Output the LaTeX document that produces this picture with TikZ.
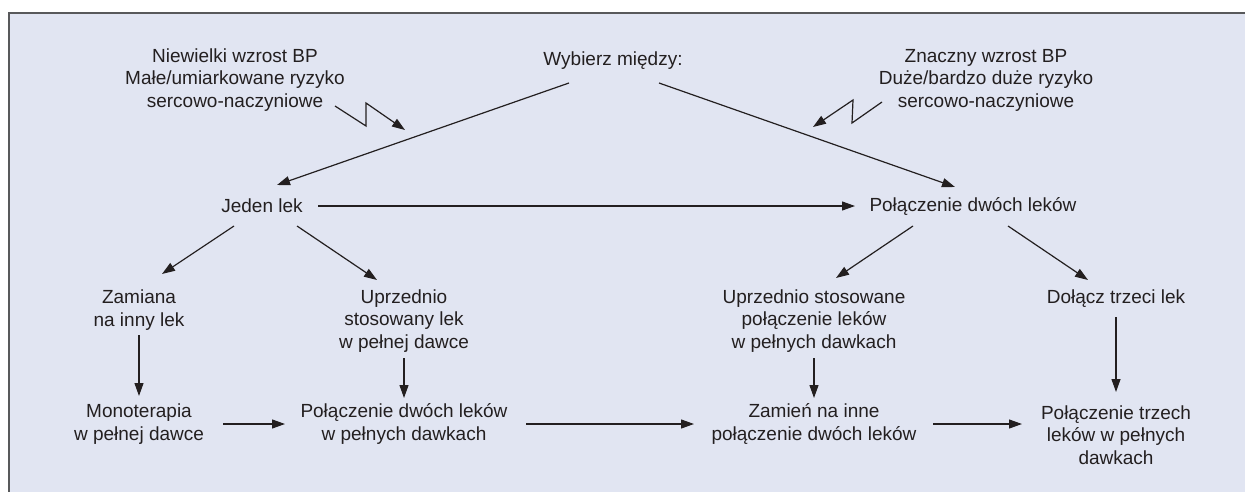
\documentclass[tikz,border=0pt]{standalone}
\usepackage{fontspec}
\setmainfont{Liberation Sans}
\usepackage{tikz}
\usetikzlibrary{arrows.meta}
\definecolor{panel}{HTML}{E1E5F2}
\definecolor{frameline}{HTML}{58595B}
\definecolor{ink}{HTML}{231F20}

\begin{document}
\begin{tikzpicture}[x=1pt, y=-1pt,
      txt/.style={text=ink, font=\fontsize{19}{22.5}\selectfont,
                  align=center, inner sep=0pt},
      a/.style={-{Triangle[length=13pt, width=9pt]}, draw=ink, line width=1.2pt},
      zz/.style={a, line join=miter}]
    \useasboundingbox (0,0) rectangle (1245,492);
    \fill[panel] (9,13) rectangle (1245,492);
    \draw[frameline, line width=2pt] (9,492) -- (9,13) -- (1245,13);
    % choice
    \node[txt] (wyb) at (613,61) {Wybierz między:};
    \node[txt] (low) at (235,80)
      {Niewielki wzrost BP\\Małe/umiarkowane ryzyko\\sercowo-naczyniowe};
    \node[txt] (high) at (986,80)
      {Znaczny wzrost BP\\Duże/bardzo duże ryzyko\\sercowo-naczyniowe};
    \node[txt] (jeden) at (262,206) {Jeden lek};
    \node[txt] (dwa) at (973,206) {Połączenie dwóch leków};
    % second step
    \node[txt] (zam) at (139,310) {Zamiana\\na inny lek};
    \node[txt] (upr) at (404,321) {Uprzednio\\stosowany lek\\w pełnej dawce};
    \node[txt] (uprdwa) at (814,321)
      {Uprzednio stosowane\\połączenie leków\\w pełnych dawkach};
    \node[txt] (trzeci) at (1116,299) {Dołącz trzeci lek};
    % bottom row
    \node[txt] (mono) at (139,424) {Monoterapia\\w pełnej dawce};
    \node[txt] (dwafull) at (404,424) {Połączenie dwóch leków\\w pełnych dawkach};
    \node[txt] (zamien) at (814,424) {Zamień na inne\\połączenie dwóch leków};
    \node[txt] (trzy) at (1116,435) {Połączenie trzech\\leków w pełnych\\dawkach};
    \coordinate (lowtip) at (405,130);
    \coordinate (hightip) at (813,127);
    % connectors
    \draw[zz] ([shift={(100,26)}]low.center) -- ++(31,20) -- ++(0,-23) -- (lowtip);
    \draw[zz] ([shift={(-104,22)}]high.center) -- ++(-30,21) -- ++(1,-23) -- (hightip);
    \draw[a] ([shift={(-44,22)}]wyb.center) -- ([shift={(15,-21)}]jeden.center);
    \draw[a] ([shift={(46,22)}]wyb.center) -- ([shift={(-18,-19)}]dwa.center);
    \draw[a] ([shift={(56,0)}]jeden.center) -- ([shift={(-118,0)}]dwa.center);
    \draw[a] ([shift={(-28,20)}]jeden.center) -- ([shift={(23,-36)}]zam.center);
    \draw[a] ([shift={(35,20)}]jeden.center) -- ([shift={(-27,-41)}]upr.center);
    \draw[a] ([shift={(-60,20)}]dwa.center) -- ([shift={(22,-43)}]uprdwa.center);
    \draw[a] ([shift={(35,20)}]dwa.center) -- ([shift={(-28,-19)}]trzeci.center);
    \draw[a] ([shift={(0,25)}]zam.center) -- ([shift={(0,-28)}]mono.center);
    \draw[a] ([shift={(0,37)}]upr.center) -- ([shift={(0,-26)}]dwafull.center);
    \draw[a] ([shift={(0,37)}]uprdwa.center) -- ([shift={(0,-26)}]zamien.center);
    \draw[a] ([shift={(0,18)}]trzeci.center) -- ([shift={(0,-43)}]trzy.center);
    \draw[a] ([shift={(84,0)}]mono.center) -- ([shift={(-119,0)}]dwafull.center);
    \draw[a] ([shift={(122,0)}]dwafull.center) -- ([shift={(-120,0)}]zamien.center);
    \draw[a] ([shift={(119,0)}]zamien.center) -- ([shift={(-94,-11)}]trzy.center);
  \end{tikzpicture}
\end{document}
